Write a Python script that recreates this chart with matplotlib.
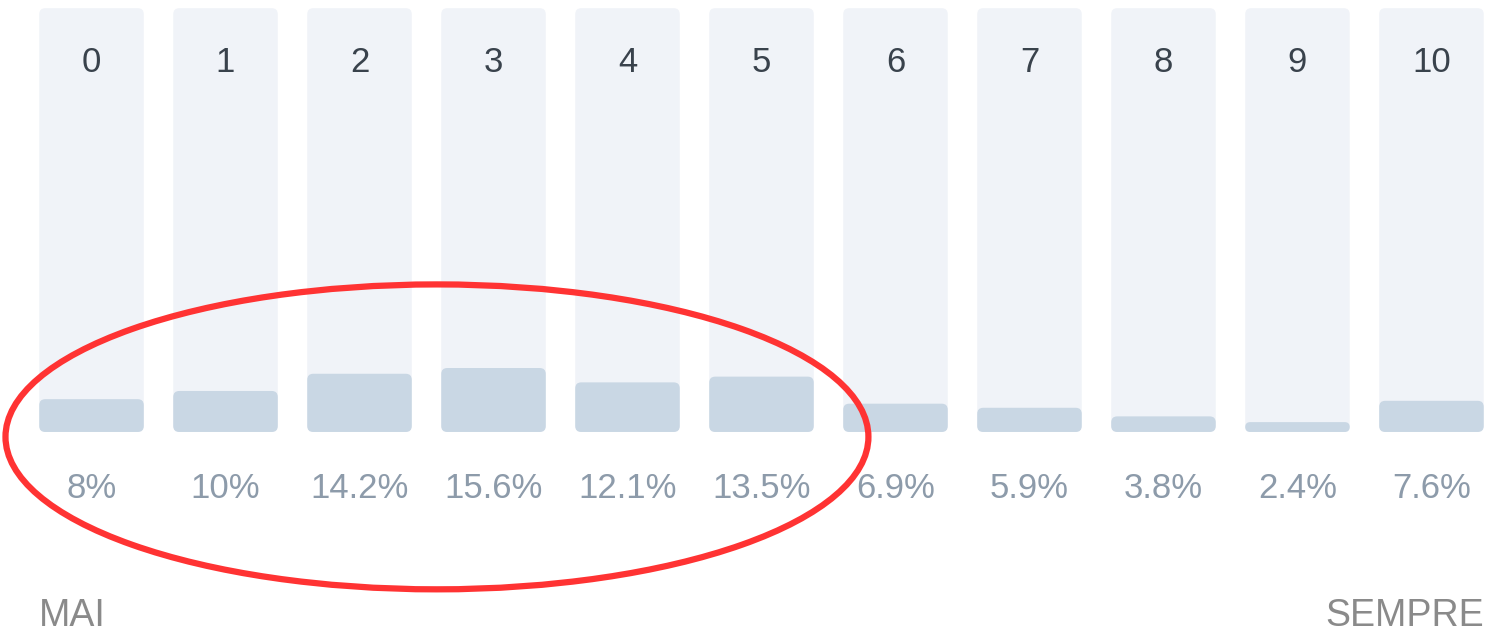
import matplotlib
matplotlib.use('Agg')
import matplotlib.pyplot as plt
from matplotlib.patches import FancyBboxPatch, Ellipse

# scale labels and share of answers (%)
scores = ['0', '1', '2', '3', '4', '5', '6', '7', '8', '9', '10']
shares = [8, 10, 14.2, 15.6, 12.1, 13.5, 6.9, 5.9, 3.8, 2.4, 7.6]
share_labels = ['8%', '10%', '14.2%', '15.6%', '12.1%', '13.5%', '6.9%', '5.9%', '3.8%', '2.4%', '7.6%']
left_label = 'MAI'
right_label = 'SEMPRE'

plt.rcParams['font.family'] = ['Liberation Sans', 'DejaVu Sans']

fig = plt.figure(figsize=(14.86, 6.34), dpi=100)
ax = fig.add_axes([0, 0, 1, 1])
ax.set_xlim(-0.683, 10.407)
ax.set_ylim(-49.3, 105.4)
ax.axis('off')

bar_w = 0.78
track = 103.4
px_x = 1 / 134.0   # data units per pixel, x
px_y = 1 / 4.1     # data units per pixel, y


def rounded_bar(x, h, color, z):
    r = min(6, h / px_y / 2) * px_x
    p = FancyBboxPatch((x - bar_w / 2, 0), bar_w, h,
                       boxstyle='round,pad=0,rounding_size=%f' % r,
                       mutation_aspect=px_y / px_x,
                       fc=color, ec='none', zorder=z)
    ax.add_patch(p)


for i, (s, v, lab) in enumerate(zip(scores, shares, share_labels)):
    rounded_bar(i, track, '#f0f3f8', 1)
    rounded_bar(i, v, '#c9d7e4', 2)
    ax.text(i, 90.2, s, ha='center', va='center', fontsize=25, color='#39424c')
    ax.text(i, -13.7, lab, ha='center', va='center', fontsize=25, color='#8d9baa')

ax.text(-0.39, -45.0, left_label, ha='left', va='center', fontsize=27, color='#8a8a8a')
ax.text(10.39, -45.0, right_label, ha='right', va='center', fontsize=27, color='#8a8a8a')

ell = Ellipse((2.578, -1.2), 6.44, 74.4, fill=False, ec='#ff3333', lw=4.5, zorder=5)
ax.add_patch(ell)

fig.savefig('out.png', dpi=100)
